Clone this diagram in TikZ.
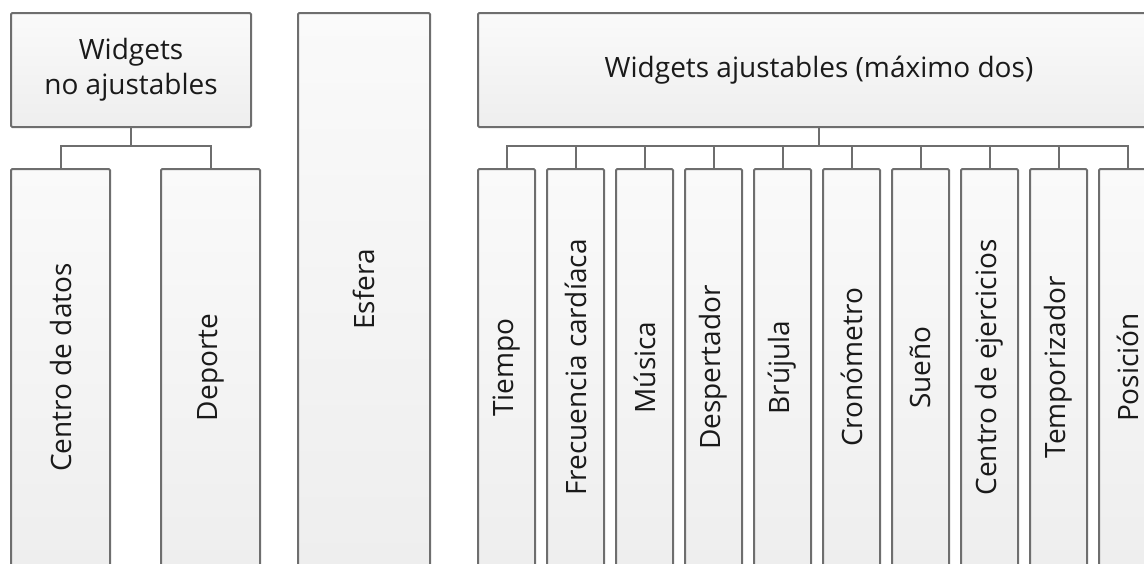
\documentclass[tikz,border=0pt]{standalone}
\usepackage{fontspec}
\setmainfont{Open Sans}
\usepackage{tikz}

\definecolor{linegray}{HTML}{6E6E6E}
\definecolor{boxtop}{HTML}{FAFAFA}
\definecolor{boxbot}{HTML}{EEEEEE}
\definecolor{txt}{HTML}{1A1A1A}

\begin{document}
\begin{tikzpicture}[x=0.5pt,y=-0.5pt,
    box/.style={rectangle,draw=linegray,line width=1pt,rounded corners=0.6pt,
        top color=boxtop,bottom color=boxbot,text=txt,inner sep=0pt,
        font=\fontsize{14}{17.5}\selectfont,align=center},
    leaf/.style={box,minimum width=28.5pt,minimum height=198.5pt},
    link/.style={draw=linegray,line width=1pt}]
            \useasboundingbox (0,0) rectangle (1144,563);
            \clip (0,0) rectangle (1144,563);
            % non-adjustable widgets
            \node [box,minimum width=120pt,minimum height=57pt] (noadj) at (131,70) {Widgets\\no ajustables};
            \node [box,minimum width=49.5pt,minimum height=198.5pt] (datos) at (60.5,367.5) {\rotatebox{90}{Centro de datos}};
            \node [box,minimum width=49.5pt,minimum height=198.5pt] (deporte) at (210.5,367.5) {\rotatebox{90}{Deporte}};
            \draw [link] (noadj.south) -- ++(0,18) -| (datos.north);
            \draw [link] (noadj.south) -- ++(0,18) -| (deporte.north);
            % watch face
            \node [box,minimum width=66pt,minimum height=276.5pt] (esfera) at (364,289.5) {\rotatebox{90}{Esfera}};
            % adjustable widgets
            \node [box,minimum width=341pt,minimum height=57pt] (adj) at (819,70) {Widgets ajustables (máximo dos)};
            \node [leaf] (tiempo) at (506.5,367.5) {\rotatebox{90}{Tiempo}};
            \node [leaf] (frec) at (575.5,367.5) {\rotatebox{90}{Frecuencia cardíaca}};
            \node [leaf] (musica) at (644.5,367.5) {\rotatebox{90}{Música}};
            \node [leaf] (despert) at (713.5,367.5) {\rotatebox{90}{Despertador}};
            \node [leaf] (brujula) at (782.5,367.5) {\rotatebox{90}{Brújula}};
            \node [leaf] (crono) at (851.5,367.5) {\rotatebox{90}{Cronómetro}};
            \node [leaf] (sueno) at (920.5,367.5) {\rotatebox{90}{Sueño}};
            \node [leaf] (ejerc) at (989.5,367.5) {\rotatebox{90}{Centro de ejercicios}};
            \node [leaf] (tempor) at (1058.5,367.5) {\rotatebox{90}{Temporizador}};
            \node [leaf] (posicion) at (1127.5,367.5) {\rotatebox{90}{Posición}};
            \draw [link] (adj.south) -- ++(0,18) -| (tiempo.north);
            \draw [link] (adj.south) -- ++(0,18) -| (frec.north);
            \draw [link] (adj.south) -- ++(0,18) -| (musica.north);
            \draw [link] (adj.south) -- ++(0,18) -| (despert.north);
            \draw [link] (adj.south) -- ++(0,18) -| (brujula.north);
            \draw [link] (adj.south) -- ++(0,18) -| (crono.north);
            \draw [link] (adj.south) -- ++(0,18) -| (sueno.north);
            \draw [link] (adj.south) -- ++(0,18) -| (ejerc.north);
            \draw [link] (adj.south) -- ++(0,18) -| (tempor.north);
            \draw [link] (adj.south) -- ++(0,18) -| (posicion.north);
\end{tikzpicture}
\end{document}
